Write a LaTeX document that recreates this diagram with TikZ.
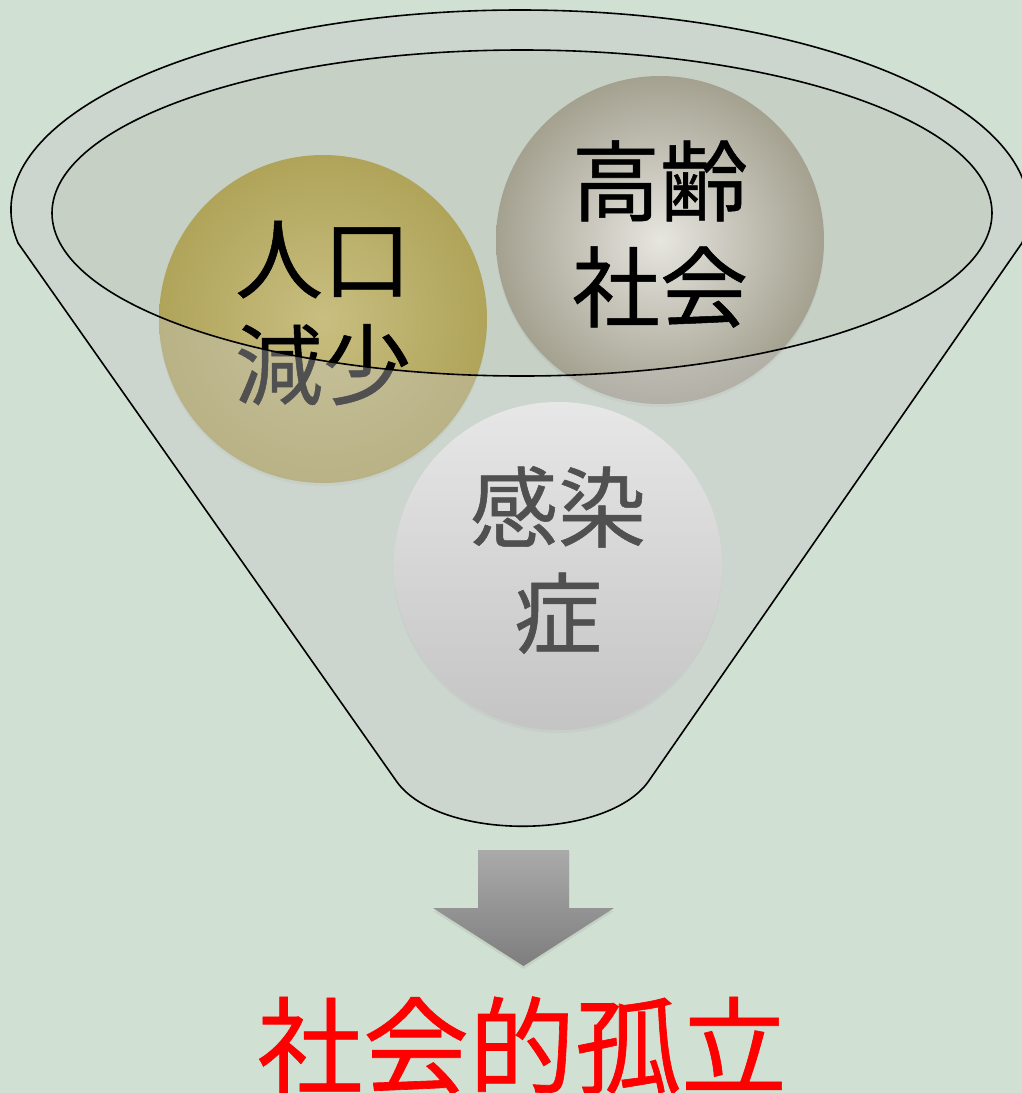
\documentclass[tikz,border=0pt]{standalone}
\usepackage{fontspec}
\setmainfont[FakeBold=0.6,AutoFakeBold=0.6]{Noto Sans CJK JP}
\usetikzlibrary{shadows}

\definecolor{bggreen}{RGB}{208,224,210}
\definecolor{funnelgray}{RGB}{200,200,200}
\definecolor{mouthgray}{RGB}{182,182,178}
\definecolor{goldin}{RGB}{200,190,128}
\definecolor{goldout}{RGB}{176,164,90}
\definecolor{stonein}{RGB}{230,229,223}
\definecolor{stoneout}{RGB}{164,161,144}
\definecolor{paletop}{RGB}{252,252,252}
\definecolor{palebot}{RGB}{194,194,194}
\definecolor{arrowtop}{RGB}{170,170,170}
\definecolor{arrowbot}{RGB}{126,126,126}

\begin{document}
\begin{tikzpicture}[x=1pt,y=-1pt,
    ball/.style={circle,minimum size=328pt,inner sep=0pt,
        drop shadow={opacity=0.12,shadow xshift=0pt,shadow yshift=-3pt}},
    balltext/.style={align=center,inner sep=0pt,font=\fontsize{88}{106}\selectfont\bfseries},
    rim/.style={black,line width=1.6pt}]

    % background
    \fill[bggreen] (0,0) rectangle (1022,1093);
    \useasboundingbox (0,0) rectangle (1022,1093);

    % back of the funnel mouth
    \fill[mouthgray,opacity=0.38] (522,213) ellipse [x radius=470, y radius=163];

    %%%%%%%%%%%%%%%%%%%%%%%%%%%%%%%%%%%%%%%%%%%%%%%%%%%%%%

    % population decline
    \node[ball,inner color=goldin,outer color=goldout] (jinko) at (323,319) {};
    \node[balltext] (jinkotxt) at (323,313) {人口\\減少};

    % aged society
    \node[ball,inner color=stonein,outer color=stoneout] (korei) at (660,240) {};
    \node[balltext] (koreitxt) at (660,234) {高齢\\社会};

    % infectious disease
    \node[ball,top color=paletop,bottom color=palebot] (kansen) at (558,566) {};
    \node[balltext] (kansentxt) at (558,560) {感染\\症};

    %%%%%%%%%%%%%%%%%%%%%%%%%%%%%%%%%%%%%%%%%%%%%%%%%%%%%%

    % funnel front, see-through
    \fill[funnelgray,opacity=0.4,even odd rule]
        (18,243) arc[start angle=170.5,end angle=369.5,x radius=509,y radius=200]
        -- (648,782) .. controls (605,841) and (440,841) .. (397,782) -- cycle
        (522,213) ellipse [x radius=470, y radius=163];

    % funnel outline
    \draw[rim] (18,243) arc[start angle=170.5,end angle=369.5,x radius=509,y radius=200]
        -- (648,782) .. controls (605,841) and (440,841) .. (397,782) -- cycle;
    \draw[rim] (522,213) ellipse [x radius=470, y radius=163];

    %%%%%%%%%%%%%%%%%%%%%%%%%%%%%%%%%%%%%%%%%%%%%%%%%%%%%%

    % down arrow
    \shade[top color=arrowtop,bottom color=arrowbot,
        drop shadow={opacity=0.15,shadow xshift=0pt,shadow yshift=-3pt}]
        (478,850) -- (569,850) -- (569,908) -- (614,908) -- (523.5,966)
        -- (433,908) -- (478,908) -- cycle;

    % social isolation
    \node[anchor=base,inner sep=0pt,text=red,font=\fontsize{106}{120}\selectfont\bfseries] (koritsu) at (522,1086) {社会的孤立};

\end{tikzpicture}
\end{document}
